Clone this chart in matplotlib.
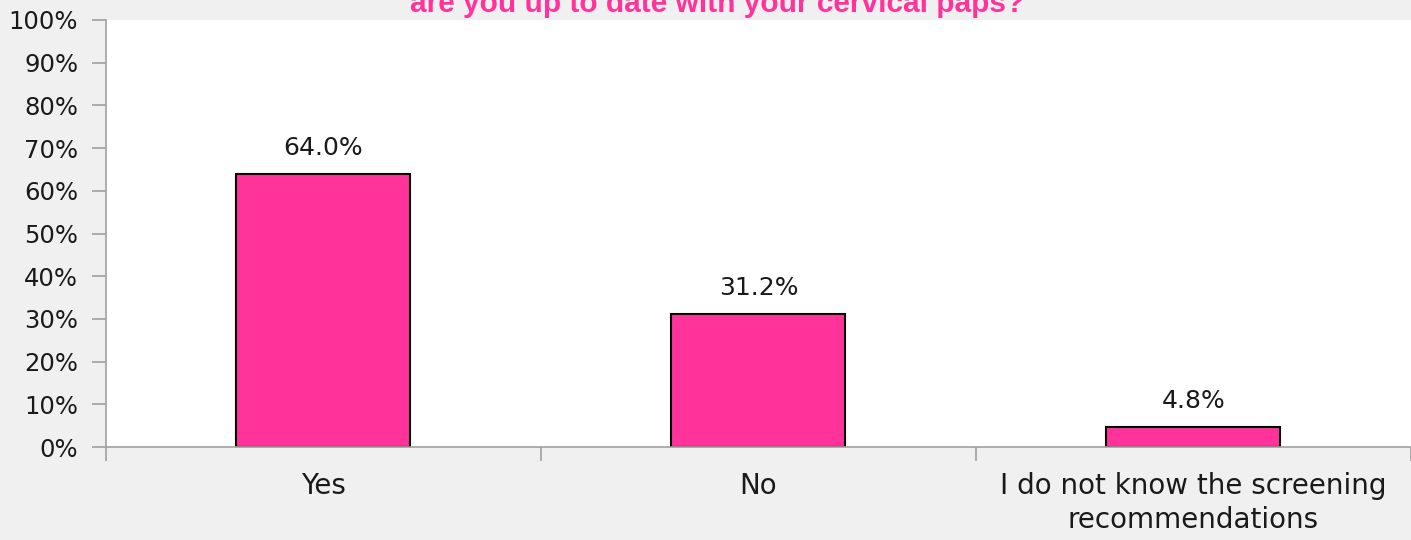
import matplotlib.pyplot as plt
from matplotlib.ticker import FixedLocator

categories = ["Yes", "No", "I do not know the screening\nrecommendations"]
values = [64.0, 31.2, 4.8]
yticks = [0, 10, 20, 30, 40, 50, 60, 70, 80, 90, 100]

plt.rcParams['font.family'] = ['DejaVu Sans']

fig = plt.figure(figsize=(14.11, 5.40), dpi=100, facecolor='#f0f0f0')
ax = fig.add_axes([0.0751, 0.172, 0.9249, 0.791])
ax.set_facecolor('white')

x = list(range(len(categories)))
bars = ax.bar(x, values, width=0.4, color='#ff3399', edgecolor='black', linewidth=1.5, zorder=3)

for rect, v in zip(bars, values):
    ax.annotate(f"{v:.1f}%", (rect.get_x() + rect.get_width() / 2, v),
                xytext=(0, 10), textcoords='offset points',
                ha='center', va='bottom', fontsize=18, color='#1a1a1a')

ax.set_xlim(-0.5, len(categories) - 0.5)
ax.set_ylim(0, 100)
ax.set_yticks(yticks)
ax.set_yticklabels([f"{t}%" for t in yticks])

ax.set_xticks(x)
ax.set_xticklabels(categories, fontsize=20, color='#1a1a1a', linespacing=1.25)
ax.xaxis.set_minor_locator(FixedLocator([i - 0.5 for i in range(len(categories) + 1)]))
ax.tick_params(axis='x', which='major', length=0, pad=18)
ax.tick_params(axis='x', which='minor', length=10, color='#a0a0a0', width=1.2)
ax.tick_params(axis='y', length=10, color='#a0a0a0', width=1.2, labelsize=17.5,
               labelcolor='#1a1a1a', pad=10)

for side in ['top', 'right']:
    ax.spines[side].set_visible(False)
for side in ['left', 'bottom']:
    ax.spines[side].set_color('#a0a0a0')
    ax.spines[side].set_linewidth(1.2)
    ax.spines[side].set_zorder(4)

fig.text(0.508, 1 - 12 / 540, "are you up to date with your cervical paps?",
         ha='center', va='baseline', fontsize=21.5, fontweight='bold',
         color='#ff3399', family=['Liberation Sans', 'DejaVu Sans'])

fig.savefig('out.png', dpi=100, facecolor=fig.get_facecolor())
